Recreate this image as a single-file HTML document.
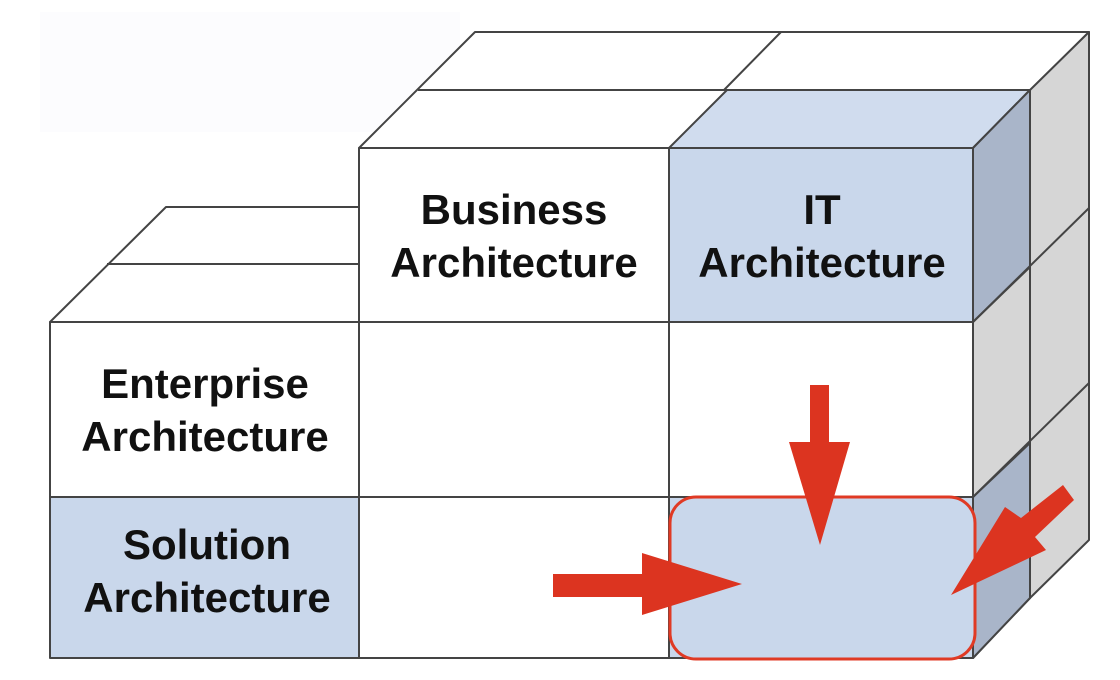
<!DOCTYPE html>
<html><head><meta charset="utf-8"><style>
html,body{margin:0;padding:0;background:#fff;}
svg{display:block}
text{font-family:"Liberation Sans",Arial,sans-serif;font-weight:bold;font-size:42px;fill:#111;text-anchor:middle}
</style></head><body>
<svg width="1120" height="680" viewBox="0 0 1120 680">
<rect width="1120" height="680" fill="#fff"/>
<rect x="40" y="12" width="420" height="120" fill="#fcfcfe"/>
<g stroke="#444" stroke-width="2" stroke-linejoin="round">
<polygon points="50,322 166,207 359,207 359,322" fill="#fff"/>
<line x1="107" y1="264" x2="359" y2="264"/>
<polygon points="359,148 475,32 1089,32 973,148" fill="#fff"/>
<line x1="418" y1="90" x2="1030" y2="90"/>
<line x1="781" y1="32" x2="724" y2="90"/>
<polygon points="669,148 727,90 1030,90 973,148" fill="#d0dcee"/>
<polygon points="1030,90 1089,32 1089,540 1030,598" fill="#d6d6d6"/>
<polygon points="973,148 1030,90 1030,598 973,658" fill="#d6d6d6"/>
<polygon points="973,148 1030,90 1030,267 973,322" fill="#a9b5c9"/>
<polygon points="973,497 1030,443 1030,598 973,658" fill="#a9b5c9"/>
<line x1="973" y1="322" x2="1089" y2="208"/>
<line x1="973" y1="497" x2="1089" y2="383"/>
<rect x="359" y="148" width="310" height="174" fill="#fff"/>
<rect x="669" y="148" width="304" height="174" fill="#c9d7eb"/>
<rect x="50" y="322" width="309" height="175" fill="#fff"/>
<rect x="359" y="322" width="310" height="175" fill="#fff"/>
<rect x="669" y="322" width="304" height="175" fill="#fff"/>
<rect x="50" y="497" width="309" height="161" fill="#c9d7eb"/>
<rect x="359" y="497" width="310" height="161" fill="#fff"/>
<rect x="669" y="497" width="304" height="161" fill="#c9d7eb"/>
</g>
<rect x="670" y="497" width="305" height="162" rx="26" fill="#c9d7eb" stroke="#e03a24" stroke-width="3"/>
<text x="514" y="224">Business</text>
<text x="514" y="277">Architecture</text>
<text x="822" y="224">IT</text>
<text x="822" y="277">Architecture</text>
<text x="205" y="398">Enterprise</text>
<text x="205" y="451">Architecture</text>
<text x="207" y="559">Solution</text>
<text x="207" y="612">Architecture</text>
<g fill="#dc3420">
<polygon points="810,385 829,385 829,442 850,442 820,545 789,442 810,442"/>
<polygon points="553,574 642,574 642,553 742,584 642,615 642,597 553,597"/>
<polygon points="1063,485 1074,500 1035,537 1046,550 951,595 1005,507 1021,518"/>
</g>
</svg>
</body></html>
